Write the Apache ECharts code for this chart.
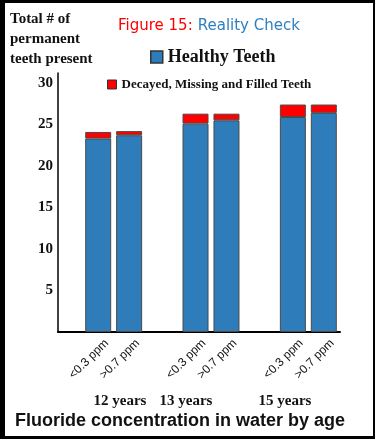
<!DOCTYPE html>
<html>
<head>
<meta charset="utf-8">
<script src="https://cdn.jsdelivr.net/npm/echarts@6/dist/echarts.min.js"></script>
<style>
    html, body { margin: 0; padding: 0; background: #fff; }
    #wrap { position: relative; width: 375px; height: 439px; }
    #chart { width: 375px; height: 439px; }
    #frame {
        position: absolute; left: 0; top: 0; right: 0; bottom: 0;
        border-style: solid; border-color: #000;
        border-width: 3px 2px 3px 5px;
        pointer-events: none;
    }
</style>
</head>
<body>
<div id="wrap">
    <div id="chart"></div>
    <div id="frame"></div>
</div>
<script>
// data
const ageGroups = ['12 years', '13 years', '15 years'];
const fluorideLevels = ['<0.3 ppm', '>0.7 ppm'];
const healthyLow = [23.3, 25.1, 25.9];
const healthyHigh = [23.7, 25.5, 26.4];
const dmfLow = [0.8, 1.2, 1.5];
const dmfHigh = [0.5, 0.8, 1.0];
const yTicks = [5, 10, 15, 20, 25, 30];

const BLUE = '#2e7dba';
const RED = '#ff0000';
const EDGE = '#4a4a4a';
const SERIF = '"Liberation Serif", "Times New Roman", serif';
const SANS = '"Liberation Sans", Arial, sans-serif';
const VERDANA = '"DejaVu Sans", Verdana, sans-serif';
const Y_MAX = 31.2;

// small nudges so the age labels sit where the original put them
const ageLabelPad = [[0, 0, 0, 30], [0, 26, 0, 0], [0, 16, 0, 0]];

const chart = echarts.init(document.getElementById('chart'));

const ppmLabel = (text) => ({
    show: true,
    position: 'bottom',
    formatter: text,
    rotate: 45,
    align: 'right',
    verticalAlign: 'middle',
    offset: [3, 9],
    color: '#111',
    fontSize: 12,
    fontFamily: SANS,
});

const barBase = {
    type: 'bar',
    xAxisIndex: 1,
    yAxisIndex: 1,
    barWidth: 26,
    barGap: '19%',
    itemStyle: { borderColor: EDGE, borderWidth: 1 },
    emphasis: { disabled: true },
};

chart.setOption({
    animation: false,
    backgroundColor: '#fff',
    title: [
        {
            text: '{r|Figure 15:} {b|Reality Check}',
            left: 113,
            top: 12,
            textStyle: {
                rich: {
                    r: { color: RED, fontSize: 15, fontWeight: 'normal', fontFamily: VERDANA },
                    b: { color: '#2f7fc0', fontSize: 15, fontWeight: 'normal', fontFamily: VERDANA },
                },
            },
        },
        {
            text: 'Total # of\npermanent\nteeth present',
            left: 5,
            top: 4,
            textStyle: { color: '#111', fontSize: 15, fontWeight: 'bold', fontFamily: SERIF, lineHeight: 20 },
        },
        {
            text: 'Fluoride concentration in water by age',
            left: 10,
            top: 407,
            textStyle: { color: '#111', fontSize: 18, fontWeight: 'bold', fontFamily: SANS },
        },
    ],
    legend: [
        {
            data: ['Healthy Teeth'],
            left: 145,
            top: 43,
            itemWidth: 12,
            itemHeight: 12,
            icon: 'rect',
            itemStyle: { borderColor: '#333', borderWidth: 1.5 },
            textStyle: { color: '#111', fontSize: 18, fontWeight: 'bold', fontFamily: SERIF },
            selectedMode: false,
        },
        {
            data: ['Decayed, Missing and Filled Teeth'],
            left: 102,
            top: 73,
            itemWidth: 9,
            itemHeight: 9,
            itemGap: 6,
            icon: 'rect',
            itemStyle: { borderColor: '#333', borderWidth: 1 },
            textStyle: { color: '#111', fontSize: 13, fontWeight: 'bold', fontFamily: SERIF },
            selectedMode: false,
        },
    ],
    grid: [
        { left: 58, right: 35, top: 73, bottom: 107 },
        { left: 65, right: 18, top: 73, bottom: 107 },
    ],
    xAxis: [
        {
            gridIndex: 0,
            type: 'category',
            data: ageGroups.map((g, i) => ({ value: g, textStyle: { padding: ageLabelPad[i] } })),
            axisLine: { lineStyle: { color: '#000', width: 2 } },
            axisTick: { show: false },
            axisLabel: { margin: 62, color: '#111', fontSize: 15, fontWeight: 'bold', fontFamily: SERIF },
        },
        {
            gridIndex: 1,
            type: 'category',
            data: ageGroups,
            show: false,
        },
    ],
    yAxis: [
        {
            gridIndex: 0,
            type: 'value',
            min: 0,
            max: Y_MAX,
            interval: 5,
            axisLine: { show: true, lineStyle: { color: '#000', width: 1.5 } },
            axisTick: { show: false },
            splitLine: { show: false },
            axisLabel: {
                margin: 5,
                color: '#111',
                fontSize: 15,
                fontWeight: 'bold',
                fontFamily: SERIF,
                showMinLabel: false,
                showMaxLabel: false,
                formatter: (v) => (yTicks.includes(v) ? String(v) : ''),
            },
        },
        { gridIndex: 1, type: 'value', min: 0, max: Y_MAX, show: false },
    ],
    series: [
        { ...barBase, name: 'Healthy Teeth', stack: 'low', data: healthyLow, color: BLUE, label: ppmLabel(fluorideLevels[0]) },
        { ...barBase, name: 'Decayed, Missing and Filled Teeth', stack: 'low', data: dmfLow, color: RED },
        { ...barBase, name: 'Healthy Teeth', stack: 'high', data: healthyHigh, color: BLUE, label: ppmLabel(fluorideLevels[1]) },
        { ...barBase, name: 'Decayed, Missing and Filled Teeth', stack: 'high', data: dmfHigh, color: RED },
    ],
});
</script>
</body>
</html>
